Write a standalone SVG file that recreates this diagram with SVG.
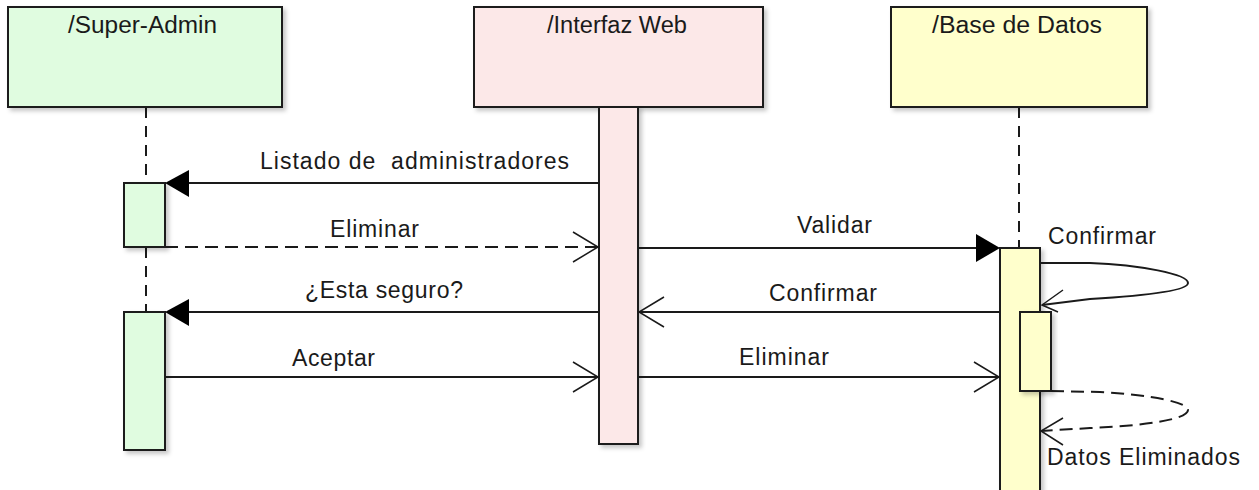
<svg xmlns="http://www.w3.org/2000/svg" width="1259" height="490" viewBox="0 0 1259 490">
<style>
text{font-family:"Liberation Sans",Arial,sans-serif;font-size:23px;fill:#1a1a1a;white-space:pre}
.box{stroke:#1a1a1a;stroke-width:2}
.green{fill:#e0fce0}
.pink{fill:#fce8e8}
.yellow{fill:#ffffcc}
.life{stroke:#1a1a1a;stroke-width:2;stroke-dasharray:11 8;fill:none}
.msg{stroke:#1a1a1a;stroke-width:2;fill:none}
.dash{stroke-dasharray:13 7}
.open{stroke:#1a1a1a;stroke-width:1.5;fill:none}
.fill{fill:#000;stroke:none}
</style>
<defs>
<filter id="sh" x="-10%" y="-10%" width="130%" height="130%">
<feDropShadow dx="3" dy="3" stdDeviation="2" flood-color="#000" flood-opacity="0.22"/>
</filter>
</defs>

<g id="lifelines">
<line class="life" x1="146" y1="107" x2="146" y2="183"/>
<line class="life" x1="146" y1="247" x2="146" y2="312"/>
<line class="life" x1="1019" y1="107" x2="1019" y2="248"/>
</g>

<g id="super-admin">
<rect class="box green" x="8" y="7" width="274" height="100" filter="url(#sh)"/>
<text x="68" y="33" textLength="149" lengthAdjust="spacingAndGlyphs">/Super-Admin</text>
<rect class="box green" x="124" y="183" width="41" height="64" filter="url(#sh)"/>
<rect class="box green" x="124" y="312" width="41" height="138" filter="url(#sh)"/>
</g>

<g id="interfaz-web">
<rect class="box pink" x="474" y="7" width="289" height="100" filter="url(#sh)"/>
<text x="547" y="33" textLength="140" lengthAdjust="spacingAndGlyphs">/Interfaz Web</text>
<rect class="box pink" x="599" y="107" width="39" height="337" filter="url(#sh)"/>
</g>

<g id="base-de-datos">
<rect class="box yellow" x="891" y="7" width="256" height="100" filter="url(#sh)"/>
<text x="932" y="33" textLength="170" lengthAdjust="spacingAndGlyphs">/Base de Datos</text>
<rect class="box yellow" x="1000" y="248" width="40" height="250" filter="url(#sh)"/>
<rect class="box yellow" x="1020" y="312" width="31" height="79" filter="url(#sh)"/>
</g>

<g id="connectors">
<line class="msg" x1="599" y1="183" x2="186" y2="183"/>
<polygon class="fill" points="165,183 189,170 189,197"/>
<text x="260" y="169" textLength="309" lengthAdjust="spacing" xml:space="preserve">Listado de  administradores</text>

<line class="msg dash" x1="165" y1="247" x2="598" y2="247"/>
<polyline class="open" points="573,232 598,247 573,262"/>
<text x="330" y="237" textLength="89" lengthAdjust="spacing">Eliminar</text>

<line class="msg" x1="599" y1="312" x2="186" y2="312"/>
<polygon class="fill" points="165,312 189,299 189,326"/>
<text x="305" y="298" textLength="158" lengthAdjust="spacing">¿Esta seguro?</text>

<line class="msg" x1="165" y1="377" x2="598" y2="377"/>
<polyline class="open" points="573,362 598,377 573,392"/>
<text x="292" y="366" textLength="83" lengthAdjust="spacing">Aceptar</text>

<line class="msg" x1="638" y1="248" x2="978" y2="248"/>
<polygon class="fill" points="1000,248 976,234 976,262"/>
<text x="797" y="233" textLength="75" lengthAdjust="spacing">Validar</text>

<line class="msg" x1="1000" y1="312" x2="639" y2="312"/>
<polyline class="open" points="664,297 639,312 664,327"/>
<text x="769" y="301" textLength="108" lengthAdjust="spacing">Confirmar</text>

<line class="msg" x1="638" y1="377" x2="999" y2="377"/>
<polyline class="open" points="974,362 999,377 974,392"/>
<text x="739" y="365" textLength="90" lengthAdjust="spacing">Eliminar</text>

<path class="msg" d="M1040,263 L1090,263 C1140,265 1188,274 1188,283 C1188,291 1140,296 1090,299 L1042,305"/>
<polyline class="open" points="1063,290 1042,305 1058,312"/>
<text x="1048" y="244" textLength="108" lengthAdjust="spacing">Confirmar</text>

<path class="msg dash" d="M1051,391 L1100,392 C1150,395 1188,402 1188,410 C1188,420 1140,426 1090,428 L1041,431"/>
<polyline class="open" points="1063,418 1041,431 1063,445"/>
<text x="1047" y="465" textLength="193" lengthAdjust="spacing">Datos Eliminados</text>
</g>
</svg>
